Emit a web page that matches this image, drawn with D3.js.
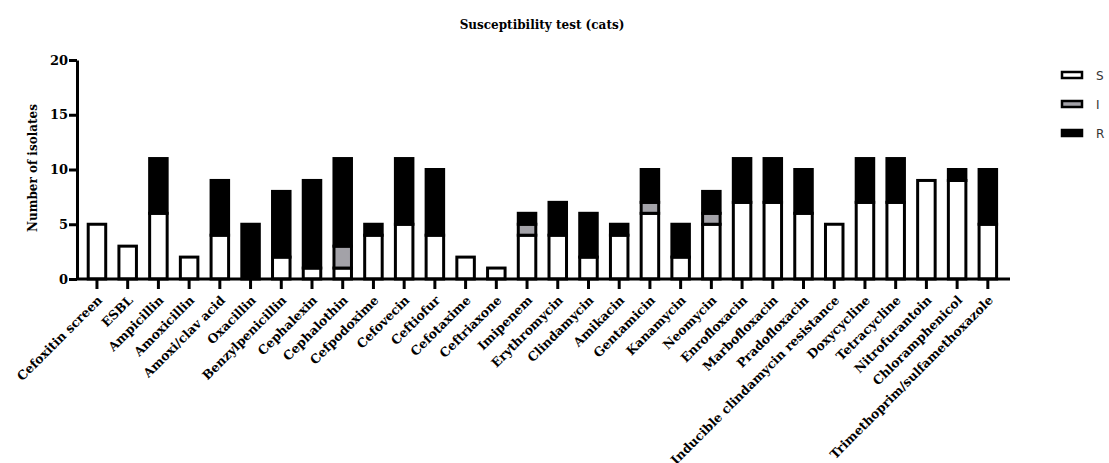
<!DOCTYPE html>
<html>
<head>
<meta charset="utf-8">
<script src="https://cdn.jsdelivr.net/npm/d3@7"></script>
<style>
  body { margin: 0; background: #fff; }
  svg { display: block; }
</style>
</head>
<body>
<div id="chart"></div>
<script>
const drugs = [
  'Cefoxitin screen', 'ESBL', 'Ampicillin', 'Amoxicillin', 'Amoxi/clav acid',
  'Oxacillin', 'Benzylpenicillin', 'Cephalexin', 'Cephalothin', 'Cefpodoxime',
  'Cefovecin', 'Ceftiofur', 'Cefotaxime', 'Ceftriaxone', 'Imipenem',
  'Erythromycin', 'Clindamycin', 'Amikacin', 'Gentamicin', 'Kanamycin',
  'Neomycin', 'Enrofloxacin', 'Marbofloxacin', 'Pradofloxacin',
  'Inducible clindamycin resistance', 'Doxycycline', 'Tetracycline',
  'Nitrofurantoin', 'Chloramphenicol', 'Trimethoprim/sulfamethoxazole'
];
const susceptible  = [5, 3, 6, 2, 4, 0, 2, 1, 1, 4, 5, 4, 2, 1, 4, 4, 2, 4, 6, 2, 5, 7, 7, 6, 5, 7, 7, 9, 9, 5];
const intermediate = [0, 0, 0, 0, 0, 0, 0, 0, 2, 0, 0, 0, 0, 0, 1, 0, 0, 0, 1, 0, 1, 0, 0, 0, 0, 0, 0, 0, 0, 0];
const resistant    = [0, 0, 5, 0, 5, 5, 6, 8, 8, 1, 6, 6, 0, 0, 1, 3, 4, 1, 3, 3, 2, 4, 4, 4, 0, 4, 4, 0, 1, 5];
const yTicks = [0, 5, 10, 15, 20];

const keys = ['S', 'I', 'R'];
const fills = { S: '#ffffff', I: '#a3a2a8', R: '#000000' };

const width = 1109, height = 463;
const serif = '"DejaVu Serif", "Liberation Serif", serif';

const rows = drugs.map((d, i) => ({
  drug: d, S: susceptible[i], I: intermediate[i], R: resistant[i]
}));

const svg = d3.select('#chart')
  .append('svg')
  .attr('width', width)
  .attr('height', height);

const x = d3.scaleBand()
  .domain(drugs)
  .range([81.6, 1003.2])
  .paddingInner(0.43)
  .paddingOuter(0.215);

const y = d3.scaleLinear()
  .domain([0, 20])
  .range([279, 60]);

const series = d3.stack().keys(keys)(rows);

// bars
svg.append('g')
  .selectAll('g')
  .data(series)
  .join('g')
  .attr('fill', d => fills[d.key])
  .selectAll('rect')
  .data(d => d.filter(s => s[1] - s[0] > 0))
  .join('rect')
  .attr('x', d => x(d.data.drug))
  .attr('y', d => y(d[1]))
  .attr('width', x.bandwidth())
  .attr('height', d => y(d[0]) - y(d[1]))
  .attr('stroke', '#000')
  .attr('stroke-width', 3);

// y axis
const yAxis = svg.append('g')
  .attr('transform', 'translate(77,0)')
  .call(d3.axisLeft(y).tickValues(yTicks).tickSize(8).tickSizeOuter(0));
yAxis.select('.domain').attr('stroke-width', 3);
yAxis.selectAll('.tick line').attr('stroke-width', 3);
yAxis.selectAll('.tick text')
  .attr('x', -9)
  .attr('font-family', serif)
  .attr('font-weight', 'bold')
  .attr('font-size', 13)
  .attr('fill', '#000');

// x axis
const xAxis = svg.append('g')
  .attr('transform', 'translate(0,279)')
  .call(d3.axisBottom(x).tickSize(10).tickSizeOuter(0));
xAxis.select('.domain').remove();
xAxis.selectAll('.tick line').attr('stroke-width', 3);
xAxis.selectAll('.tick text')
  .attr('font-family', serif)
  .attr('font-weight', 'bold')
  .attr('font-size', 12.5)
  .attr('fill', '#000')
  .attr('text-anchor', 'end')
  .attr('dy', null)
  .attr('y', 0)
  .attr('transform', 'translate(6,22) rotate(-45)');

svg.append('line')
  .attr('x1', 76)
  .attr('x2', 1010)
  .attr('y1', 279)
  .attr('y2', 279)
  .attr('stroke', '#000')
  .attr('stroke-width', 3);

// axis title
svg.append('text')
  .attr('transform', 'translate(37,168) rotate(-90)')
  .attr('text-anchor', 'middle')
  .attr('font-family', serif)
  .attr('font-weight', 'bold')
  .attr('font-size', 12)
  .text('Number of isolates');

// title
svg.append('text')
  .attr('x', 542)
  .attr('y', 29)
  .attr('text-anchor', 'middle')
  .attr('font-family', serif)
  .attr('font-weight', 'bold')
  .attr('font-size', 12)
  .text('Susceptibility test (cats)');

// legend
const legend = svg.append('g')
  .selectAll('g')
  .data(keys)
  .join('g')
  .attr('transform', (d, i) => `translate(1062,${72 + i * 29})`);

legend.append('rect')
  .attr('width', 20)
  .attr('height', 6)
  .attr('fill', d => fills[d])
  .attr('stroke', '#000')
  .attr('stroke-width', 2.5);

legend.append('text')
  .attr('x', 34)
  .attr('y', 8)
  .attr('font-family', '"DejaVu Sans", sans-serif')
  .attr('font-size', 12)
  .attr('fill', '#333')
  .text(d => d);
</script>
</body>
</html>
